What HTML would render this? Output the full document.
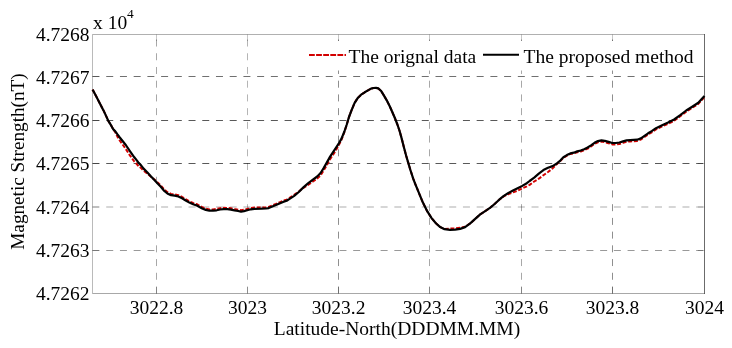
<!DOCTYPE html><html><head><meta charset="utf-8"><style>html,body{margin:0;padding:0;background:#fff;width:732px;height:348px;overflow:hidden}svg{display:block;will-change:transform}text{font-family:"Liberation Serif",serif;fill:#000}</style></head><body>
<svg width="732" height="348" viewBox="0 0 732 348">
<g stroke="#000" stroke-width="1" stroke-dasharray="7 6.72" fill="none"><line x1="156.5" y1="293.5" x2="156.5" y2="34.5" stroke-opacity="0.34"/><line x1="247.5" y1="293.5" x2="247.5" y2="34.5" stroke-opacity="0.29"/><line x1="338.5" y1="293.5" x2="338.5" y2="34.5" stroke-opacity="0.44"/><line x1="429.5" y1="293.5" x2="429.5" y2="34.5" stroke-opacity="0.34"/><line x1="521.5" y1="293.5" x2="521.5" y2="34.5" stroke-opacity="0.34"/><line x1="612.5" y1="293.5" x2="612.5" y2="34.5" stroke-opacity="0.44"/><line x1="92.5" y1="76.5" x2="704.5" y2="76.5" stroke-opacity="0.56"/><line x1="92.5" y1="120.5" x2="704.5" y2="120.5" stroke-opacity="0.65"/><line x1="92.5" y1="163.5" x2="704.5" y2="163.5" stroke-opacity="0.65"/><line x1="92.5" y1="207.0" x2="704.5" y2="207.0" stroke-opacity="0.32"/><line x1="92.5" y1="250.5" x2="704.5" y2="250.5" stroke-opacity="0.4"/></g>
<rect x="300" y="41" width="400" height="29.5" fill="#fff"/>
<g stroke="#000" stroke-width="1" fill="none"><line x1="156.5" y1="293.5" x2="156.5" y2="287.0" stroke-opacity="0.22"/><line x1="156.5" y1="34.5" x2="156.5" y2="41.0" stroke-opacity="0.22"/><line x1="247.5" y1="293.5" x2="247.5" y2="287.0" stroke-opacity="0.22"/><line x1="247.5" y1="34.5" x2="247.5" y2="41.0" stroke-opacity="0.22"/><line x1="338.5" y1="293.5" x2="338.5" y2="287.0" stroke-opacity="0.22"/><line x1="338.5" y1="34.5" x2="338.5" y2="41.0" stroke-opacity="0.22"/><line x1="429.5" y1="293.5" x2="429.5" y2="287.0" stroke-opacity="0.22"/><line x1="429.5" y1="34.5" x2="429.5" y2="41.0" stroke-opacity="0.22"/><line x1="521.5" y1="293.5" x2="521.5" y2="287.0" stroke-opacity="0.22"/><line x1="521.5" y1="34.5" x2="521.5" y2="41.0" stroke-opacity="0.22"/><line x1="612.5" y1="293.5" x2="612.5" y2="287.0" stroke-opacity="0.22"/><line x1="612.5" y1="34.5" x2="612.5" y2="41.0" stroke-opacity="0.22"/><line x1="92.5" y1="76.5" x2="99.0" y2="76.5" stroke-opacity="0.22"/><line x1="704.5" y1="76.5" x2="698.0" y2="76.5" stroke-opacity="0.22"/><line x1="92.5" y1="120.5" x2="99.0" y2="120.5" stroke-opacity="0.22"/><line x1="704.5" y1="120.5" x2="698.0" y2="120.5" stroke-opacity="0.22"/><line x1="92.5" y1="163.5" x2="99.0" y2="163.5" stroke-opacity="0.22"/><line x1="704.5" y1="163.5" x2="698.0" y2="163.5" stroke-opacity="0.22"/><line x1="92.5" y1="207.0" x2="99.0" y2="207.0" stroke-opacity="0.22"/><line x1="704.5" y1="207.0" x2="698.0" y2="207.0" stroke-opacity="0.22"/><line x1="92.5" y1="250.5" x2="99.0" y2="250.5" stroke-opacity="0.22"/><line x1="704.5" y1="250.5" x2="698.0" y2="250.5" stroke-opacity="0.22"/></g>
<g stroke="#000" stroke-width="1" fill="none"><line x1="92.5" y1="34.5" x2="92.5" y2="293.5" stroke-opacity="0.27"/><line x1="92.5" y1="34.5" x2="704.5" y2="34.5" stroke-opacity="0.31"/><line x1="92.5" y1="293.5" x2="704.5" y2="293.5" stroke-opacity="0.34"/><line x1="704.5" y1="34.0" x2="704.5" y2="294.0" stroke-opacity="0.58"/></g>
<path d="M92.5,89.6 L93.1,90.5 L96.3,96.5 L99.9,103.5 L103.5,110.4 L106.4,116.6 L108.5,121.2 L111.4,125.9 L113.1,129.1 L115.3,132.3 L117.3,136.4 L119.4,140.0 L121.6,143.1 L125.8,149.0 L130.1,155.7 L134.3,161.5 L137.0,164.3 L138.6,166.2 L140.9,167.9 L143.6,170.7 L147.2,173.4 L150.8,176.6 L154.4,179.6 L157.6,182.4 L160.8,185.5 L163.7,189.0 L167.4,192.2 L171.0,193.9 L174.7,194.4 L178.4,195.2 L182.1,197.0 L185.7,199.2 L189.4,201.3 L193.1,203.0 L196.8,204.2 L200.0,206.0 L202.2,207.2 L205.8,208.6 L209.4,209.4 L213.0,209.4 L216.6,209.0 L220.2,208.2 L223.7,207.8 L227.3,207.9 L230.9,208.3 L234.5,209.1 L238.1,209.7 L241.0,210.3 L244.0,209.8 L247.2,209.0 L250.8,208.1 L254.4,207.6 L261.6,207.5 L266.0,207.3 L268.7,206.9 L272.3,205.4 L275.9,204.0 L279.5,202.3 L283.1,200.8 L286.7,199.7 L289.6,197.9 L294.2,194.8 L298.8,191.5 L303.4,187.8 L308.0,184.9 L312.6,181.7 L317.2,178.6 L320.6,175.3 L323.5,170.8 L326.5,165.6 L330.1,159.1 L334.4,152.7 L338.7,145.4 L341.6,139.5 L344.4,132.0 L346.6,125.1 L349.0,117.0 L351.5,110.4 L354.5,103.1 L357.5,98.3 L361.1,94.7 L364.7,92.3 L368.4,90.1 L371.0,88.6 L373.5,88.0 L376.0,87.9 L378.3,88.4 L380.9,90.7 L383.7,95.1 L386.6,100.1 L389.5,105.8 L392.4,112.3 L395.2,118.8 L397.4,124.5 L399.6,131.0 L401.7,138.6 L403.9,147.2 L406.1,155.5 L408.2,162.6 L410.4,170.0 L413.2,178.6 L415.2,183.8 L418.6,192.2 L422.9,202.6 L427.2,211.2 L431.6,218.1 L435.9,223.3 L440.2,227.1 L444.5,229.0 L450.0,228.6 L455.1,228.4 L460.1,227.7 L465.1,226.8 L470.2,223.4 L475.2,218.9 L480.2,214.4 L485.2,211.1 L490.3,207.6 L494.6,204.0 L499.2,199.7 L503.8,196.3 L508.4,194.1 L513.0,192.4 L517.6,190.7 L522.2,188.4 L526.8,186.4 L529.6,184.9 L534.2,181.5 L538.8,178.7 L543.4,175.2 L548.0,172.0 L552.6,168.4 L557.2,163.7 L560.3,161.1 L563.4,157.8 L566.9,155.6 L570.3,153.9 L573.8,153.4 L577.2,152.3 L580.7,151.5 L584.1,150.2 L587.6,148.6 L591.0,146.5 L594.5,143.9 L597.9,142.3 L601.4,141.6 L604.8,142.2 L608.6,143.2 L612.2,144.4 L615.8,144.4 L619.4,144.0 L623.0,142.9 L626.6,141.8 L630.1,141.4 L633.7,141.2 L637.3,140.9 L640.9,139.5 L644.5,137.0 L648.1,134.5 L651.7,132.3 L656.0,129.4 L662.1,126.4 L668.1,123.8 L674.1,120.7 L680.2,116.3 L686.2,111.6 L692.2,107.8 L698.3,103.9 L703.1,98.5 L704.5,97.0" fill="none" stroke="#d20000" stroke-width="2" stroke-dasharray="4 1.7" stroke-linejoin="round"/>
<path d="M92.5,89.6 L93.1,90.5 L96.3,96.5 L99.9,103.5 L103.5,110.4 L106.4,116.6 L108.5,121.2 L111.4,125.9 L113.1,129.1 L115.3,131.3 L117.3,134.2 L119.4,137.0 L121.6,139.7 L125.8,145.0 L130.1,151.4 L134.3,157.3 L137.0,160.6 L138.6,162.9 L140.9,165.1 L143.6,168.6 L147.2,172.2 L150.8,176.3 L154.4,180.1 L157.6,183.4 L160.8,186.8 L163.7,190.3 L167.4,193.5 L171.0,195.2 L174.7,195.7 L178.4,196.5 L182.1,198.3 L185.7,200.5 L189.4,202.6 L193.1,204.3 L196.8,205.5 L200.0,207.3 L202.2,208.5 L205.8,209.9 L209.4,210.7 L213.0,210.7 L216.6,210.3 L220.2,209.5 L223.7,209.1 L227.3,209.2 L230.9,209.6 L234.5,210.4 L238.1,211.0 L241.0,211.6 L244.0,211.1 L247.2,210.2 L250.8,209.3 L254.4,208.8 L261.6,208.7 L266.0,208.5 L268.7,208.1 L272.3,206.6 L275.9,205.1 L279.5,203.4 L283.1,201.9 L286.7,200.7 L289.6,198.9 L294.2,195.8 L298.8,192.0 L303.4,187.4 L308.0,183.4 L312.6,179.9 L317.2,176.5 L320.6,173.0 L323.5,168.4 L326.5,163.1 L330.1,156.6 L334.4,150.2 L338.7,143.7 L341.6,138.4 L344.4,131.5 L346.6,125.0 L349.0,117.0 L351.5,110.4 L354.5,103.1 L357.5,98.3 L361.1,94.7 L364.7,92.3 L368.4,90.1 L371.0,88.6 L373.5,88.0 L376.0,87.9 L378.3,88.4 L380.9,90.7 L383.7,95.1 L386.6,100.1 L389.5,105.8 L392.4,112.3 L395.2,118.8 L397.4,124.5 L399.6,131.0 L401.7,138.6 L403.9,147.2 L406.1,155.5 L408.2,162.6 L410.4,170.0 L413.2,178.6 L415.2,183.8 L418.6,192.2 L422.9,202.6 L427.2,211.2 L431.6,218.1 L435.9,223.3 L440.2,227.1 L444.5,229.2 L450.0,229.8 L455.1,229.6 L460.1,228.9 L465.1,227.1 L470.2,223.4 L475.2,218.9 L480.2,214.4 L485.2,211.1 L490.3,207.6 L494.6,204.0 L499.2,199.7 L503.8,195.9 L508.4,193.0 L513.0,190.5 L517.6,188.2 L522.2,185.9 L526.8,183.2 L529.6,181.0 L534.2,177.6 L538.8,173.6 L543.4,170.1 L548.0,167.8 L552.6,166.1 L557.2,163.2 L560.3,160.6 L563.4,157.3 L566.9,155.1 L570.3,153.4 L573.8,152.7 L577.2,151.4 L580.7,150.5 L584.1,149.2 L587.6,147.5 L591.0,145.4 L594.5,142.8 L597.9,141.1 L601.4,140.4 L604.8,140.9 L608.6,141.9 L612.2,143.0 L615.8,143.0 L619.4,142.5 L623.0,141.4 L626.6,140.4 L630.1,140.1 L633.7,139.9 L637.3,139.7 L640.9,138.3 L644.5,135.8 L648.1,133.3 L651.7,131.1 L656.0,128.2 L662.1,125.2 L668.1,122.6 L674.1,119.5 L680.2,115.1 L686.2,110.5 L692.2,106.7 L698.3,102.8 L703.1,97.4 L704.5,95.9" fill="none" stroke="#000" stroke-width="2.2" stroke-linejoin="round" stroke-linecap="butt"/>
<line x1="309" y1="54.9" x2="346" y2="54.9" stroke="#d20000" stroke-width="2" stroke-dasharray="5.8 1.3"/>
<line x1="483" y1="54.7" x2="519" y2="54.7" stroke="#000" stroke-width="2"/>
<text x="348.5" y="62.5" font-size="19.5">The orignal data</text>
<text x="523.5" y="62.5" font-size="19.5">The proposed method</text>
<text x="156.5" y="313.8" font-size="19.5" text-anchor="middle">3022.8</text>
<text x="247.5" y="313.8" font-size="19.5" text-anchor="middle">3023</text>
<text x="338.6" y="313.8" font-size="19.5" text-anchor="middle">3023.2</text>
<text x="429.5" y="313.8" font-size="19.5" text-anchor="middle">3023.4</text>
<text x="521.5" y="313.8" font-size="19.5" text-anchor="middle">3023.6</text>
<text x="612.5" y="313.8" font-size="19.5" text-anchor="middle">3023.8</text>
<text x="704.5" y="313.8" font-size="19.5" text-anchor="middle">3024</text>
<text x="89.5" y="41.3" font-size="19.5" text-anchor="end">4.7268</text>
<text x="89.5" y="83.5" font-size="19.5" text-anchor="end">4.7267</text>
<text x="89.5" y="127.3" font-size="19.5" text-anchor="end">4.7266</text>
<text x="89.5" y="170.4" font-size="19.5" text-anchor="end">4.7265</text>
<text x="89.5" y="213.7" font-size="19.5" text-anchor="end">4.7264</text>
<text x="89.5" y="257.0" font-size="19.5" text-anchor="end">4.7263</text>
<text x="89.5" y="300.3" font-size="19.5" text-anchor="end">4.7262</text>
<text x="93" y="28.6" font-size="19.5">x 10</text><text x="126.9" y="17.9" font-size="13.4">4</text>
<text x="397" y="334.6" font-size="19.5" text-anchor="middle">Latitude-North(DDDMM.MM)</text>
<text transform="translate(24,161.5) rotate(-90)" x="0" y="0" font-size="19.2" text-anchor="middle">Magnetic Strength(nT)</text>
</svg></body></html>
